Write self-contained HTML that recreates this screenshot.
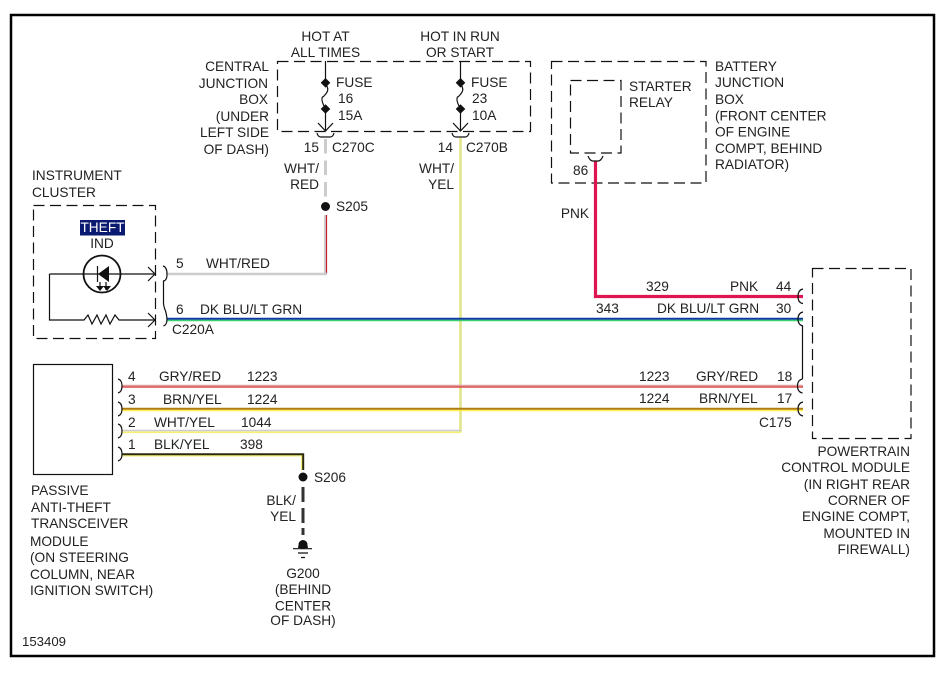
<!DOCTYPE html>
<html><head><meta charset="utf-8"><style>
html,body{margin:0;padding:0;background:#fff}
svg{display:block}
text{font-family:"Liberation Sans",sans-serif;font-size:13.7px;fill:#222}
.e{text-anchor:end}.m{text-anchor:middle}
.d{fill:none;stroke:#111;stroke-width:1.2;stroke-dasharray:11 5.5}
.l{fill:none;stroke:#111;stroke-width:1.2}
</style></head><body>
<svg width="952" height="690" viewBox="0 0 952 690" xmlns="http://www.w3.org/2000/svg">
<rect width="952" height="690" fill="#fff"/>
<rect x="11" y="15" width="923" height="641" fill="none" stroke="#000" stroke-width="2.5"/>

<!-- dashed boxes -->
<rect class="d" x="277.5" y="61.5" width="253" height="70"/>
<rect class="d" x="33.5" y="205.5" width="122" height="133"/>
<rect class="d" x="551.5" y="61.5" width="154.5" height="121.5"/>
<rect class="d" x="570.5" y="80.5" width="50.5" height="72.5"/>
<rect class="d" x="812.5" y="268.5" width="98.5" height="170"/>
<rect x="33.5" y="364.5" width="79" height="110" fill="none" stroke="#111" stroke-width="1.2"/>

<!-- wires -->
<g fill="none">
<path d="M325.5 139V198" stroke="#ccc" stroke-width="3" stroke-dasharray="14.5 7"/>
<path d="M325 215V274" stroke="#ccc" stroke-width="2"/>
<path d="M326.5 215V274" stroke="#c8202a" stroke-width="1.2"/>
<path d="M167 274H327" stroke="#ccc" stroke-width="2.5"/>
<path d="M460.5 138V432" stroke="#e3e58a" stroke-width="2.6"/>
<path d="M122 430.5H461" stroke="#ccc" stroke-width="1.6"/>
<path d="M122 432.3H461" stroke="#f5f070" stroke-width="1.6"/>
<path d="M167 320.5H803" stroke="#38d070" stroke-width="1.5"/>
<path d="M167 318.7H803" stroke="#0a3c9c" stroke-width="2"/>
<path d="M122 385.5H803" stroke="#e0a0a0" stroke-width="1.6"/>
<path d="M122 387H803" stroke="#d42a2a" stroke-width="1.3"/>
<path d="M122 410.5H803" stroke="#fff04a" stroke-width="1.6"/>
<path d="M122 408.7H803" stroke="#b07c10" stroke-width="2"/>
<path d="M122 455.8H302" stroke="#f5f070" stroke-width="1.4"/>
<path d="M301.7 455V470" stroke="#f5f070" stroke-width="1.4"/>
<path d="M122 454.3H303.2V470" stroke="#2a2a10" stroke-width="2"/>
<path d="M595.5 161V296.5H803" stroke="#de1550" stroke-width="3.2"/>
<path d="M303 487V502M303 508V523M303 528V535" stroke="#333" stroke-width="3"/>
</g>

<!-- fuses -->
<g class="l">
<path class="l" d="M325.5 61V82M325.5 109V131M460.5 61V82M460.5 109V131"/>
<path class="l" d="M325.5 84q4 5 1 9t-4 4q-2 3 3 12M460.5 84q4 5 1 9t-4 4q-2 3 3 12"/>
<path class="l" d="M318 123L325.5 131L333 123M453 123L460.5 131L468 123"/>
<path class="l" d="M317 133q1 4 4 4h9q3 0 4-4M452 133q1 4 4 4h9q3 0 4-4"/>
</g>
<g fill="#111">
<path d="M325.5 78l4.800 4.800-4.800 4.800-4.800-4.800zM325.5 104.200l4.800 4.800-4.800 4.800-4.800-4.800zM460.5 78l4.800 4.800-4.800 4.800-4.800-4.800zM460.5 104.200l4.800 4.800-4.800 4.800-4.800-4.800z"/>
<circle cx="325.5" cy="206.5" r="4.5"/>
<circle cx="303" cy="477" r="4.5"/>
<path d="M298 548a5 5.5 0 0 1 10 0z"/>
<circle cx="303" cy="544.5" r="4.5"/>
</g>
<path class="l" d="M293 548.7H312M298 553H308M301 557.5H305"/>

<!-- instrument cluster symbols -->
<rect x="80" y="220" width="45" height="15.5" fill="#0a1a70"/>
<circle cx="102" cy="274" r="18.5" fill="none" stroke="#111" stroke-width="1.8"/>
<path class="l" d="M49.5 274H154M49.5 274V320H84l4-5 4 9 5-9 4 9 5-9 4 9 5-9 4 5H154"/>
<path class="l" d="M148 267L155 274L148 281M148 313L155 320L148 327"/>
<path d="M109 266V282L98 274Z" fill="#111"/>
<path class="l" d="M97.5 266V282M100 282V290M106 282V290" />
<path d="M96 286h8l-4 5zM103 286h8l-4 5z" fill="#111"/>

<!-- connector braces -->
<g class="l">
<path class="l" d="M163 266q4 1 4 8t-4 7M163.5 281V303M163.5 303q0 3 2 8q1 3 1.500 8q0 6-3.500 7"/>
<path class="l" d="M118 379q4 1 4 7t-4 7M118 402q4 1 4 7t-4 7M118 424q4 1 4 7t-4 7M118 447q4 1 4 7t-4 7"/>
<path class="l" d="M803 289q-5 1-5 7.500t5 7M803 312q-5 1-5 7t5 7M802.500 326V379M802.500 379q-5 1-5 7t5 7M803 402q-5 1-5 7t5 7"/>
<path class="l" d="M588 156q2 5 5 5h5q3 0 5-5"/>
</g>

<!-- labels -->
<text class="m" x="325.500" y="41">HOT AT</text>
<text class="m" x="325.500" y="57">ALL TIMES</text>
<text class="m" x="460" y="41">HOT IN RUN</text>
<text class="m" x="460" y="57">OR START</text>
<g class="e">
<text class="e" x="269" y="71">CENTRAL</text>
<text class="e" x="268" y="88">JUNCTION</text>
<text class="e" x="268" y="104">BOX</text>
<text class="e" x="269" y="121">(UNDER</text>
<text class="e" x="269" y="137">LEFT SIDE</text>
<text class="e" x="269" y="154">OF DASH)</text>
</g>
<text x="336" y="87">FUSE</text><text x="338" y="103">16</text><text x="338" y="120">15A</text>
<text x="471" y="87">FUSE</text><text x="472" y="103">23</text><text x="472" y="120">10A</text>
<text class="e" x="319" y="152">15</text><text x="332" y="152">C270C</text>
<text class="e" x="453" y="152">14</text><text x="466" y="152">C270B</text>
<text class="e" x="319" y="173">WHT/</text><text class="e" x="319" y="189">RED</text>
<text class="e" x="454" y="173">WHT/</text><text class="e" x="454" y="189">YEL</text>
<text x="336" y="211">S205</text>

<text x="32" y="180">INSTRUMENT</text><text x="32" y="197">CLUSTER</text>
<text class="m" x="102.500" y="232" style="fill:#fff">THEFT</text>
<text class="m" x="102" y="248">IND</text>
<text x="176" y="268">5</text><text x="206" y="268">WHT/RED</text>
<text x="176" y="314">6</text><text x="200" y="314">DK BLU/LT GRN</text>
<text x="172" y="334">C220A</text>

<text x="128" y="381">4</text><text x="159" y="381">GRY/RED</text><text x="247" y="381">1223</text>
<text x="128" y="404">3</text><text x="163" y="404">BRN/YEL</text><text x="247" y="404">1224</text>
<text x="128" y="427">2</text><text x="154" y="427">WHT/YEL</text><text x="241" y="427">1044</text>
<text x="128" y="449">1</text><text x="154" y="449">BLK/YEL</text><text x="240" y="449">398</text>

<text x="31" y="495">PASSIVE</text>
<text x="31" y="512">ANTI-THEFT</text>
<text x="31" y="528">TRANSCEIVER</text>
<text x="30" y="546">MODULE</text>
<text x="30" y="562">(ON STEERING</text>
<text x="30" y="579">COLUMN, NEAR</text>
<text x="30" y="595">IGNITION SWITCH)</text>

<text x="314" y="482">S206</text>
<text class="e" x="296" y="505">BLK/</text><text class="e" x="296" y="521">YEL</text>
<text class="m" x="303" y="578">G200</text>
<text class="m" x="303" y="594">(BEHIND</text>
<text class="m" x="303" y="610.500">CENTER</text>
<text class="m" x="303" y="625">OF DASH)</text>
<text x="22" y="646" style="font-size:13.2px">153409</text>

<text x="629" y="91">STARTER</text><text x="629" y="107">RELAY</text>
<text x="573" y="175">86</text>
<text class="e" x="589" y="218">PNK</text>
<text x="715" y="71">BATTERY</text>
<text x="715" y="87">JUNCTION</text>
<text x="715" y="104">BOX</text>
<text x="715" y="120.500">(FRONT CENTER</text>
<text x="715" y="136.500">OF ENGINE</text>
<text x="715" y="153">COMPT, BEHIND</text>
<text x="715" y="169">RADIATOR)</text>

<text x="646" y="291">329</text><text x="730" y="291">PNK</text><text x="776" y="291">44</text>
<text x="596" y="313">343</text><text x="657" y="313">DK BLU/LT GRN</text><text x="776" y="313">30</text>
<text x="639" y="381">1223</text><text x="696" y="381">GRY/RED</text><text x="777" y="381">18</text>
<text x="639" y="403">1224</text><text x="699" y="403">BRN/YEL</text><text x="777" y="403">17</text>
<text x="759" y="427">C175</text>

<text class="e" x="910" y="456">POWERTRAIN</text>
<text class="e" x="910" y="472">CONTROL MODULE</text>
<text class="e" x="910" y="489">(IN RIGHT REAR</text>
<text class="e" x="910" y="505">CORNER OF</text>
<text class="e" x="910" y="521">ENGINE COMPT,</text>
<text class="e" x="910" y="538">MOUNTED IN</text>
<text class="e" x="910" y="554">FIREWALL)</text>
</svg>
</body></html>
